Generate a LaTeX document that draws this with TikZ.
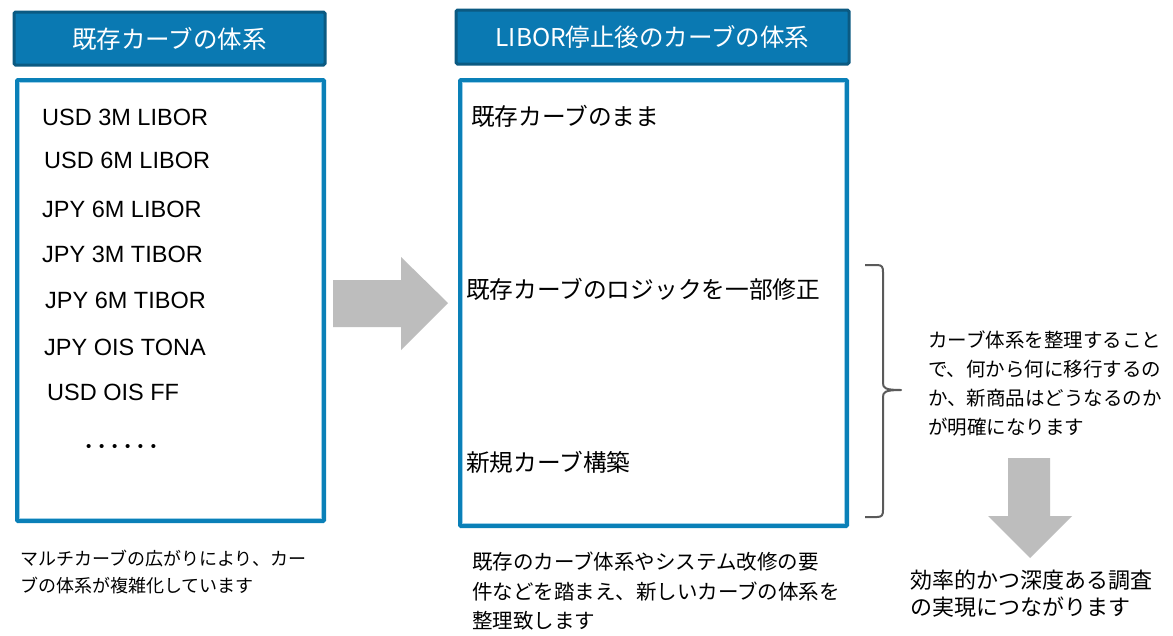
\documentclass[tikz,border=0pt]{standalone}
\usepackage{fontspec}
\setmainfont{Noto Sans CJK JP}
\newfontfamily\arial{Liberation Sans}
\definecolor{hdrfill}{HTML}{0A79B2}
\definecolor{hdrdark}{HTML}{0B5A82}
\definecolor{boxblue}{HTML}{0A80B8}
\definecolor{boxlight}{HTML}{9FD0E8}
\definecolor{arrowgray}{HTML}{BDBDBD}
\definecolor{bracegray}{HTML}{5A5A5A}
\begin{document}
\begin{tikzpicture}[x=1pt,y=-1pt,
  hdr/.style={draw=hdrdark,line width=3pt,fill=hdrfill,rounded corners=1.5pt},
  hdrtext/.style={text=white,font=\fontsize{24.5}{28}\selectfont},
  mainbox/.style={draw=boxblue,line width=4pt,rounded corners=1pt},
  inner/.style={draw=boxlight,line width=0.8pt},
  listtext/.style={anchor=west,inner sep=0pt,font=\arial\fontsize{23.5}{27}\selectfont},
  itemtext/.style={anchor=west,inner sep=0pt,font=\fontsize{23.7}{28}\selectfont},
  note/.style={anchor=north west,inner sep=0pt,align=left},
  bigarrow/.style={fill=arrowgray,draw=none}]
\useasboundingbox (0,0) rectangle (1173,635);
\fill[white] (0,0) rectangle (1173,635);
% headers
\draw[hdr] (14,12) rectangle (325,65);
\node[hdrtext] (h1) at (169.5,39) {既存カーブの体系};
\draw[hdr] (456,10) rectangle (849,64);
\node[hdrtext] (h2) at (652.5,37) {LIBOR停止後のカーブの体系};
% main boxes
\draw[mainbox] (17,80) rectangle (324,521);
\draw[inner] (19.5,82.5) rectangle (321.5,518.5);
\draw[mainbox] (460,80) rectangle (847,526);
\draw[inner] (462.5,82.5) rectangle (844.5,523.5);
% left list
\node[listtext] (l1) at (42,117) {USD 3M LIBOR};
\node[listtext] (l2) at (44,160) {USD 6M LIBOR};
\node[listtext] (l3) at (42,209) {JPY 6M LIBOR};
\node[listtext] (l4) at (42,254) {JPY 3M TIBOR};
\node[listtext] (l5) at (45,300) {JPY 6M TIBOR};
\node[listtext] (l6) at (44,347) {JPY OIS TONA};
\node[listtext] (l7) at (47,392) {USD OIS FF};
\node[listtext,font=\arial\fontsize{15}{16}\selectfont] (l8) at (86,448) {•\hspace{7.7pt}•\hspace{7.7pt}•\hspace{7.7pt}•\hspace{7.7pt}•\hspace{7.7pt}•};
% right items
\node[itemtext] (r1) at (471,116) {既存カーブのまま};
\node[itemtext] (r2) at (466,289) {既存カーブのロジックを一部修正};
\node[itemtext] (r3) at (466,462) {新規カーブ構築};
% big right arrow
\fill[bigarrow] (333,280) -- (401,280) -- (401,257) -- (448,303) -- (401,350) -- (401,327) -- (333,327) -- cycle;
% brace
\draw[bracegray,line width=2pt,line join=round]
  (865,265) -- (877,265) .. controls (882,265) and (883,267) .. (883,272)
  -- (883,383) .. controls (883,388) and (885,390) .. (901,390)
  .. controls (885,390) and (883,392) .. (883,397)
  -- (883,510) .. controls (883,515) and (882,517) .. (877,517) -- (865,517);
% right text
\node[note,font=\fontsize{19.5}{29}\selectfont] (t1) at (928,331)
  {カーブ体系を整理すること\\で、何から何に移行するの\\か、新商品はどうなるのか\\が明確になります};
% down arrow
\fill[bigarrow] (1008,458) -- (1050,458) -- (1050,516) -- (1072,516) -- (1030,558) -- (988,516) -- (1008,516) -- cycle;
\node[note,font=\fontsize{22}{27}\selectfont] (t2) at (910,570)
  {効率的かつ深度ある調査\\の実現につながります};
% bottom notes
\node[note,font=\fontsize{18}{27}\selectfont] (b1) at (20,550)
  {マルチカーブの広がりにより、カー\\ブの体系が複雑化しています};
\node[note,font=\fontsize{20.5}{29.5}\selectfont] (b2) at (472,552)
  {既存のカーブ体系やシステム改修の要\\件などを踏まえ、新しいカーブの体系を\\整理致します};
\end{tikzpicture}
\end{document}
